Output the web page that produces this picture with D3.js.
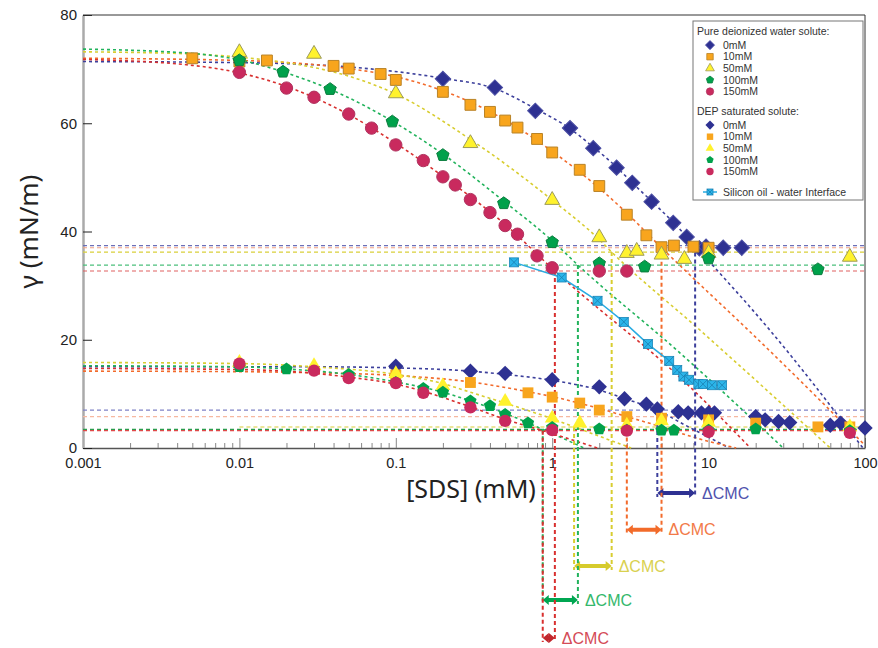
<!DOCTYPE html>
<html>
<head>
<meta charset="utf-8">
<script src="https://cdn.jsdelivr.net/npm/d3@7"></script>
<style>
  body { margin: 0; background: #fff; }
  svg text { font-family: "Noto Sans", sans-serif; }
  svg .tick text, svg .leg text { font-family: "Liberation Sans", Arial, sans-serif; }
</style>
</head>
<body>
<div id="chart"></div>
<script>
var chart = {
  width: 878,
  height: 648,
  top: 15,
  right: 13,
  bottom: 200,
  left: 83,
}

/* series names and colours */
var seriesNames = ["0mM", "10mM", "50mM", "100mM", "150mM"];
var fitColors = ["#3d409c", "#f26b2c", "#d8cd30", "#22b35c", "#d8302f"];
var plateauColorsPure = ["#6d6fb8", "#f3a184", "#d9cf3a", "#4cc07c", "#e06060"];
var plateauColorsDEP = ["#7f82c6", "#f6b8a0", "#ece59a", "#2b9c4c", "#e04848"];
var markFill = ["#2e3192", "#f8a51d", "#fff22d", "#00a14b", "#c92a5e"];
var markStroke = ["#4b4ea3", "#b98327", "#9c9a5a", "#0b7d3e", "#b0325e"];
var arrowColors = ["#2e3192", "#f26b2a", "#d6cb2c", "#00a651", "#c1272d"];
var labelColors = ["#4f52ad", "#f27a48", "#d9d150", "#34b86c", "#d44b57"];

/* pure deionized water, measured points [SDS mM, gamma] */
var pure0 = [[0.2, 68.2], [0.43, 66.6], [0.78, 62.3], [1.3, 59.1], [1.83, 55.4], [2.58, 51.8], [3.25, 49.0], [4.32, 45.5], [5.94, 41.6], [7.24, 39.0], [8.73, 36.9], [9.63, 37.2], [12.4, 37.0], [16.3, 37.0]];
var pure1 = [[0.005, 72.0], [0.01, 71.4], [0.015, 71.6], [0.04, 70.6], [0.05, 70.1], [0.08, 69.1], [0.1, 68.0], [0.2, 65.8], [0.3, 63.4], [0.4, 62.1], [0.5, 60.5], [0.6, 59.2], [0.8, 57.1], [1, 54.6], [1.5, 51.4], [2, 48.4], [3, 43.1], [4, 39.3], [5, 37.1], [6, 37.4], [8, 37.2], [10, 37.0]];
var pure2 = [[0.01, 73.1], [0.03, 72.8], [0.1, 65.5], [0.3, 56.3], [1, 45.8], [2, 38.9], [3, 36.0], [3.47, 36.4], [5, 35.7], [7, 34.9], [10, 36.0], [80, 35.3]];
var pure3 = [[0.01, 71.6], [0.019, 69.5], [0.038, 66.3], [0.095, 60.3], [0.2, 54.1], [0.49, 45.2], [1, 38.0], [2, 34.1], [3.9, 33.5], [10, 35.0], [50, 33.0]];
var pure4 = [[0.01, 69.4], [0.02, 66.5], [0.03, 64.8], [0.05, 61.7], [0.07, 59.1], [0.1, 56.0], [0.15, 53.1], [0.2, 50.1], [0.24, 48.6], [0.3, 45.9], [0.4, 43.5], [0.5, 41.1], [0.6, 39.5], [0.8, 35.5], [1, 33.3], [2, 32.7], [3, 32.7]];

/* DEP saturated solute, measured points */
var dep0 = [[0.1, 15.1], [0.3, 14.2], [0.5, 13.8], [1, 12.6], [2, 11.3], [2.9, 9.1], [4, 8.1], [4.7, 7.2], [6.4, 6.7], [7.4, 6.5], [9, 6.5], [10, 6.5], [10.9, 6.5], [20, 5.8], [23, 5.2], [28, 4.9], [33, 4.7], [60, 4.2], [70, 4.6], [100, 3.7]];
var dep1 = [[0.1, 13.5], [0.3, 12.1], [0.7, 10.2], [1, 9.4], [1.5, 8.3], [2, 7.0], [3, 5.8], [5, 5.5], [10, 5.2], [20, 4.6], [50, 3.9], [80, 3.9]];
var dep2 = [[0.01, 15.8], [0.03, 15.2], [0.1, 13.7], [0.2, 11.5], [0.5, 8.6], [1, 5.5], [1.5, 4.6], [3, 4.2], [5, 5.0], [10, 4.7], [80, 3.9]];
var dep3 = [[0.01, 15.0], [0.02, 14.6], [0.05, 13.6], [0.1, 12.1], [0.15, 11.0], [0.2, 10.3], [0.3, 8.7], [0.4, 7.8], [0.5, 6.2], [0.7, 4.6], [1, 3.8], [2, 3.5], [3, 3.3], [5, 3.3], [6, 3.3], [10, 3.3], [20, 3.5], [80, 3.2]];
var dep4 = [[0.01, 15.6], [0.03, 14.3], [0.05, 12.9], [0.1, 12.0], [0.15, 10.2], [0.3, 7.5], [0.5, 5.0], [1, 3.3], [3, 3.2], [10, 3.0], [80, 2.8]];

/* silicon oil - water interface */
var silicon = [[0.57, 34.3], [1.15, 31.5], [1.95, 27.2], [2.87, 23.3], [4.1, 19.2], [5.6, 16.1], [6.3, 14.4], [6.9, 13.2], [7.5, 12.6], [8.6, 11.8], [9.2, 11.8], [10.5, 11.6], [12.2, 11.6]];

/* fitted curves */
var fitPure0 = [[0.001, 71.4], [0.01, 71.2], [0.05, 70.4], [0.2, 68.3], [0.43, 66.4], [0.78, 62.7], [1.3, 59.0], [1.83, 55.6], [2.58, 51.9], [3.25, 49.0], [4.32, 45.6], [5.94, 41.7], [8.2, 37.3], [24.6, 21.8], [97, 0]];
var fitPure1 = [[0.001, 72.0], [0.01, 71.6], [0.05, 70.1], [0.1, 68.6], [0.2, 66.0], [0.5, 60.6], [1, 54.8], [2, 48.0], [3, 43.4], [5, 37.0], [8.1, 31.2], [17.9, 21.8], [50, 9.2], [100, 0.5]];
var fitPure2 = [[0.001, 73.2], [0.005, 72.8], [0.01, 72.2], [0.02, 71.2], [0.03, 70.3], [0.05, 68.7], [0.1, 65.4], [0.3, 57.0], [1, 45.8], [2, 38.5], [2.4, 36.2], [8.8, 21.8], [60, 0]];
var fitPure3 = [[0.001, 73.7], [0.005, 72.9], [0.01, 71.7], [0.02, 69.3], [0.04, 66.0], [0.1, 60.0], [0.2, 54.3], [0.5, 45.4], [1, 38.3], [1.46, 33.8], [6.6, 17.5], [30, 0]];
var fitPure4 = [[0.001, 71.8], [0.005, 70.7], [0.01, 69.3], [0.02, 66.8], [0.05, 61.6], [0.1, 56.3], [0.2, 50.2], [0.5, 41.3], [1.04, 32.7], [7.6, 11.3], [18.5, 0]];
var fitDEP0 = [[0.001, 15.0], [0.03, 15.0], [0.1, 14.8], [0.3, 14.2], [0.5, 13.6], [1, 12.5], [2, 10.7], [3, 9.0], [4.7, 7.0], [7, 4.3], [10, 2.0], [13.5, 0]];
var fitDEP1 = [[0.001, 14.2], [0.01, 14.1], [0.03, 13.9], [0.1, 13.4], [0.3, 12.2], [0.7, 10.4], [1, 9.5], [2, 7.3], [3, 5.8], [5, 3.9], [8, 2.0], [15, 0]];
var fitDEP2 = [[0.001, 15.8], [0.01, 15.6], [0.03, 15.0], [0.1, 13.6], [0.2, 11.9], [0.3, 10.3], [0.5, 8.3], [1, 5.4], [1.38, 3.9], [3.2, 0]];
var fitDEP3 = [[0.001, 15.2], [0.01, 15.0], [0.02, 14.6], [0.05, 13.6], [0.1, 12.2], [0.2, 10.3], [0.3, 8.7], [0.5, 6.4], [0.87, 3.45], [1.6, 0]];
var fitDEP4 = [[0.001, 14.7], [0.01, 14.5], [0.03, 13.8], [0.05, 13.1], [0.1, 11.8], [0.3, 7.6], [0.5, 5.3], [0.87, 3.2], [1.95, 0]];

/* plateaus, CMC values and arrow levels */
var plateauPure = [37.4, 37.0, 36.2, 33.8, 32.7];
var plateauDEP = [7.0, 5.8, 3.9, 3.45, 3.2];
var cmcPure = [8.2, 5.0, 2.4, 1.46, 1.04];
var cmcDEP = [4.7, 3.0, 1.38, 0.87, 0.87];
var arrowLevel = [-8.3, -15.1, -21.8, -28.1, -35.1];

var xTicksMajor = [0.001, 0.01, 0.1, 1, 10, 100];
var xTickLabels = ["0.001", "0.01", "0.1", "1", "10", "100"];
var yTicks = [0, 20, 40, 60, 80];

var pureData = [pure0, pure1, pure2, pure3, pure4];
var depData = [dep0, dep1, dep2, dep3, dep4];
var fitPure = [fitPure0, fitPure1, fitPure2, fitPure3, fitPure4];
var fitDEP = [fitDEP0, fitDEP1, fitDEP2, fitDEP3, fitDEP4];

var w = chart.width - chart.left - chart.right;
var h = chart.height - chart.top - chart.bottom;

var svg = d3.select("#chart")
  .append("svg")
  .attr("width", chart.width)
  .attr("height", chart.height)
  .append("g")
  .attr("transform", "translate(" + chart.left + "," + chart.top + ")");

var x = d3.scaleLog().domain([0.001, 100]).range([0, w]);
var y = d3.scaleLinear().domain([0, 80]).range([h, 0]);

/* pentagon symbol */
var symbolPentagon = {
  draw: function(context, size) {
    var r = Math.sqrt(size / 2.378);
    for (var i = 0; i < 5; i++) {
      var a = -Math.PI / 2 + i * 2 * Math.PI / 5;
      if (i === 0) context.moveTo(r * Math.cos(a), r * Math.sin(a));
      else context.lineTo(r * Math.cos(a), r * Math.sin(a));
    }
    context.closePath();
  }
};
var symbolTypes = [d3.symbolSquare, d3.symbolSquare, d3.symbolTriangle, symbolPentagon, d3.symbolCircle];
var symbolSizes = [118, 118, 95, 100, 120];
var symbolRotate = [45, 0, 0, 0, 0];

/* axes */
var minorTicks = [];
for (var e = -3; e < 2; e++) {
  for (var m = 2; m <= 9; m++) minorTicks.push(m * Math.pow(10, e));
}

var xAxis = svg.append("g")
  .attr("transform", "translate(0," + h + ")")
  .call(d3.axisBottom(x)
    .tickValues(xTicksMajor.concat(minorTicks))
    .tickSizeInner(-10)
    .tickSizeOuter(0)
    .tickPadding(10)
    .tickFormat(function(d) {
      var i = xTicksMajor.indexOf(d);
      return i >= 0 ? xTickLabels[i] : "";
    }));
xAxis.select(".domain").style("stroke", "#555").style("stroke-width", 1.5);
xAxis.selectAll(".tick line")
  .style("stroke", "#888")
  .attr("y2", function(d) { return xTicksMajor.indexOf(d) >= 0 ? -10 : -5; });
xAxis.selectAll(".tick text").style("font-size", "14.5px").style("fill", "#222");

var yAxis = svg.append("g")
  .call(d3.axisLeft(y)
    .tickValues(yTicks)
    .tickSizeInner(-9)
    .tickSizeOuter(0)
    .tickPadding(6));
yAxis.select(".domain").style("stroke", "#aaa").style("stroke-width", 2.5);
yAxis.selectAll(".tick line").style("stroke", "#222");
yAxis.selectAll(".tick text").style("font-size", "15px").style("fill", "#222");

/* frame top & right */
svg.append("line").attr("x1", 0).attr("x2", w).attr("y1", y(80)).attr("y2", y(80))
  .style("stroke", "#333").style("stroke-width", 1);
svg.append("line").attr("x1", w).attr("x2", w).attr("y1", y(80)).attr("y2", y(0))
  .style("stroke", "#333").style("stroke-width", 1);

/* axis titles */
svg.append("text")
  .attr("transform", "translate(-45," + (h / 2) + ") rotate(-90)")
  .style("text-anchor", "middle")
  .style("font-size", "26px")
  .style("fill", "#222")
  .text("γ (mN/m)");
svg.append("text")
  .attr("x", 388)
  .attr("y", h + 50)
  .style("text-anchor", "middle")
  .style("font-size", "25px")
  .style("fill", "#222")
  .text("[SDS] (mM)");

/* plateau lines */
plateauPure.forEach(function(p, i) {
  svg.append("line")
    .attr("x1", 0).attr("x2", w).attr("y1", y(p)).attr("y2", y(p))
    .style("stroke", plateauColorsPure[i]).style("stroke-width", 1.2)
    .style("stroke-dasharray", "4,3");
});
plateauDEP.forEach(function(p, i) {
  svg.append("line")
    .attr("x1", i === 2 ? x(0.01) : 0).attr("x2", w).attr("y1", y(p)).attr("y2", y(p))
    .style("stroke", plateauColorsDEP[i]).style("stroke-width", i === 2 ? 2 : 1.2)
    .style("stroke-dasharray", "4,3");
});

/* fitted curves */
var line = d3.line()
  .x(function(d) { return x(d[0]); })
  .y(function(d) { return y(d[1]); })
  .curve(d3.curveMonotoneX);

fitPure.concat(fitDEP).forEach(function(f, k) {
  svg.append("path")
    .attr("d", line(f))
    .style("fill", "none")
    .style("stroke", fitColors[k % 5])
    .style("stroke-width", 1.6)
    .style("stroke-dasharray", "3,3");
});

/* CMC drop lines and arrows */
function arrowPath(x1, x2, yy) {
  var hl = Math.min(6, (x2 - x1) / 2), hw = 5, t = 2;
  return "M" + x1 + "," + yy +
    "L" + (x1 + hl) + "," + (yy - hw) + "L" + (x1 + hl) + "," + (yy - t) +
    "L" + (x2 - hl) + "," + (yy - t) + "L" + (x2 - hl) + "," + (yy - hw) +
    "L" + x2 + "," + yy +
    "L" + (x2 - hl) + "," + (yy + hw) + "L" + (x2 - hl) + "," + (yy + t) +
    "L" + (x1 + hl) + "," + (yy + t) + "L" + (x1 + hl) + "," + (yy + hw) + "Z";
}

cmcPure.forEach(function(c, i) {
  var yA = y(arrowLevel[i]);
  svg.append("line")
    .attr("x1", x(c)).attr("x2", x(c))
    .attr("y1", y(plateauPure[i])).attr("y2", yA + 4)
    .style("stroke", fitColors[i]).style("stroke-width", 2)
    .style("stroke-dasharray", "4,3");
  svg.append("line")
    .attr("x1", x(cmcDEP[i])).attr("x2", x(cmcDEP[i]))
    .attr("y1", y(plateauDEP[i])).attr("y2", yA + 4)
    .style("stroke", fitColors[i]).style("stroke-width", 2)
    .style("stroke-dasharray", "4,3");
  svg.append("path")
    .attr("d", arrowPath(x(cmcDEP[i]), x(c), yA))
    .style("fill", arrowColors[i]);
  svg.append("text")
    .attr("x", x(c) + 7)
    .attr("y", yA)
    .attr("dy", "0.35em")
    .style("font-size", "16px")
    .style("font-family", "'Liberation Sans', Arial, sans-serif")
    .style("fill", labelColors[i])
    .text("ΔCMC");
});

/* silicon oil line */
svg.append("path")
  .attr("d", d3.line().x(function(d) { return x(d[0]); }).y(function(d) { return y(d[1]); })(silicon))
  .style("fill", "none")
  .style("stroke", "#29abe2")
  .style("stroke-width", 1.5);

function siliconMark(g, s) {
  g.append("rect").attr("x", -s / 2).attr("y", -s / 2).attr("width", s).attr("height", s)
    .style("fill", "#2bb5ea").style("stroke", "#1b86b8").style("stroke-width", 0.8);
  g.append("path")
    .attr("d", "M" + (-s / 2) + "," + (-s / 2) + "L" + (s / 2) + "," + (s / 2) +
      "M" + (s / 2) + "," + (-s / 2) + "L" + (-s / 2) + "," + (s / 2))
    .style("stroke", "#1b7fb0").style("stroke-width", 0.8);
}

svg.selectAll(".sil")
  .data(silicon)
  .enter()
  .append("g")
  .attr("class", "sil")
  .attr("transform", function(d) { return "translate(" + x(d[0]) + "," + y(d[1]) + ")"; })
  .each(function() { siliconMark(d3.select(this), 9); });

/* markers */
function drawMarks(data, i, outlined) {
  svg.selectAll(".m" + i + (outlined ? "p" : "d"))
    .data(data)
    .enter()
    .append("path")
    .attr("class", "m" + i + (outlined ? "p" : "d"))
    .attr("d", d3.symbol().type(symbolTypes[i]).size(symbolSizes[i]))
    .attr("transform", function(d) {
      return "translate(" + x(d[0]) + "," + y(d[1]) + ") rotate(" + symbolRotate[i] + ")";
    })
    .style("fill", markFill[i])
    .style("stroke", outlined ? markStroke[i] : "none")
    .style("stroke-width", 1);
}
for (var i = 0; i < 5; i++) drawMarks(depData[i], i, false);
for (var i = 0; i < 5; i++) drawMarks(pureData[i], i, true);

/* legend */
var legend = svg.append("g")
  .attr("class", "leg")
  .attr("transform", "translate(" + (693 - chart.left) + "," + (21 - chart.top) + ")");
legend.append("rect")
  .attr("width", 170).attr("height", 179)
  .style("fill", "#fff").style("stroke", "#777").style("stroke-width", 1);

function legendBlock(title, top, outlined) {
  legend.append("text").attr("x", 4).attr("y", top)
    .style("font-size", "10.5px").style("fill", "#333").text(title);
  seriesNames.forEach(function(n, i) {
    var yy = top + 11.6 * (i + 1) - 1.5;
    legend.append("path")
      .attr("d", d3.symbol().type(symbolTypes[i]).size(symbolSizes[i] * 0.35))
      .attr("transform", "translate(17," + yy + ") rotate(" + symbolRotate[i] + ")")
      .style("fill", markFill[i])
      .style("stroke", outlined ? markStroke[i] : "none")
      .style("stroke-width", 0.8);
    legend.append("text").attr("x", 30).attr("y", yy).attr("dy", "0.35em")
      .style("font-size", "10.5px").style("fill", "#333").text(n);
  });
}
legendBlock("Pure deionized water solute:", 14, true);
legendBlock("DEP saturated solute:", 94, false);

legend.append("line").attr("x1", 10).attr("x2", 24).attr("y1", 171).attr("y2", 171)
  .style("stroke", "#29abe2").style("stroke-width", 1.5);
siliconMark(legend.append("g").attr("transform", "translate(17,171)"), 6);
legend.append("text").attr("x", 30).attr("y", 171).attr("dy", "0.35em")
  .style("font-size", "10.5px").style("fill", "#333").text("Silicon oil - water Interface");
</script>
</body>
</html>
